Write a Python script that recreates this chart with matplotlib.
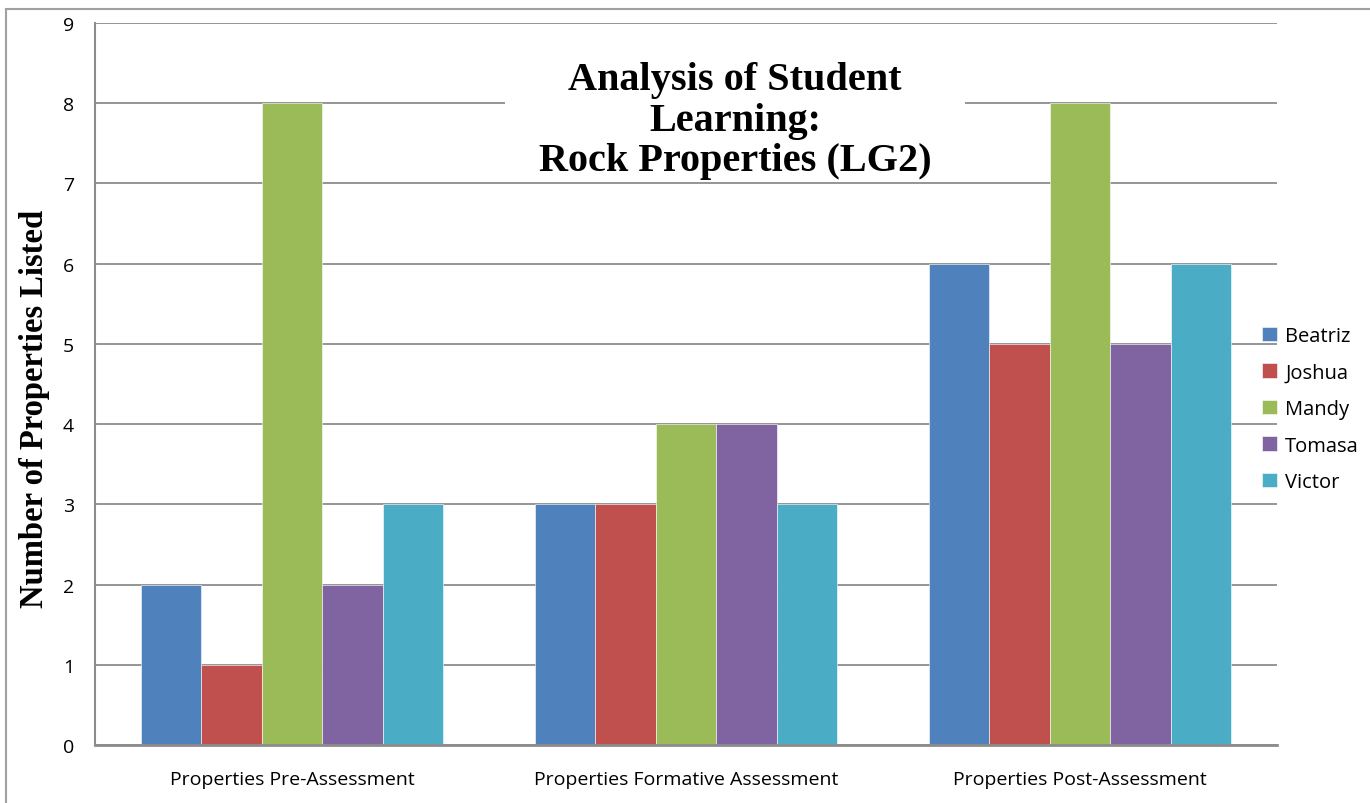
import numpy as np
import matplotlib.pyplot as plt
from matplotlib.patches import Rectangle

categories = ["Properties Pre-Assessment", "Properties Formative Assessment", "Properties Post-Assessment"]
students = ["Beatriz", "Joshua", "Mandy", "Tomasa", "Victor"]
beatriz = [2, 3, 6]
joshua = [1, 3, 5]
mandy = [8, 4, 8]
tomasa = [2, 4, 5]
victor = [3, 3, 6]
values = [beatriz, joshua, mandy, tomasa, victor]
colors = ["#4F81BD", "#C0504D", "#9BBB59", "#8064A2", "#4BACC6"]

W, H = 1370, 804
fig = plt.figure(figsize=(W / 100, H / 100), dpi=100)
ax = fig.add_axes([95 / W, 1 - 746 / H, (1277 - 95) / W, (746 - 24) / H])

# outer chart border
fig.patches.append(Rectangle((6 / W, -0.05), 1.1, 1 - 10 / H + 0.05, transform=fig.transFigure,
                             fill=False, edgecolor="#A0A0A0", linewidth=1.5, zorder=0))

x = np.arange(len(categories))
bw = 0.766 / len(students)
for i, (name, vals) in enumerate(zip(students, values)):
    ax.bar(x + (i - 2) * bw, vals, width=bw, color=colors[i], label=name,
           edgecolor="white", linewidth=0.4, zorder=3)

ax.set_xlim(-0.5, 2.5)
ax.set_ylim(0, 9)
ax.set_yticks(range(10))
ax.set_xticks(x)
ax.set_xticklabels(categories, fontsize=14, family="Open Sans")
for lab in ax.get_yticklabels():
    lab.set_family("Open Sans")
ax.tick_params(axis="y", labelsize=14, length=0, pad=15)
ax.tick_params(axis="x", length=0, pad=18)
ax.grid(axis="y", color="#8C8C8C", linewidth=1.3, zorder=0)
for s in ["top", "right"]:
    ax.spines[s].set_visible(False)
ax.spines["left"].set_color("#8C8C8C")
ax.spines["left"].set_linewidth(1.5)
ax.spines["bottom"].set_color("#8C8C8C")
ax.spines["bottom"].set_linewidth(2)
ax.spines["bottom"].set_zorder(4)

ax.set_ylabel("Number of Properties Listed", family="Liberation Serif", fontweight="bold",
              fontsize=23.5)
ax.yaxis.set_label_coords(-45 / (1277 - 95), 0.467)

# white panel behind the title
fig.patches.append(Rectangle((505 / W, 1 - 178 / H), 460 / W, 120 / H, transform=fig.transFigure,
                             facecolor="white", edgecolor="none", zorder=2))
fig.text(735 / W, 1 - 121 / H, "Analysis of Student\nLearning:\nRock Properties (LG2)",
         ha="center", va="center", family="Liberation Serif",
         fontweight="bold", fontsize=29, linespacing=1.12, zorder=5)

leg = ax.legend(loc="center left", bbox_to_anchor=(1244 / W, 1 - 410 / H),
                bbox_transform=fig.transFigure, frameon=False,
                handlelength=0.75, handleheight=0.75, handletextpad=0.4, labelspacing=0.82,
                prop={"family": "Open Sans", "size": 14.5})

fig.savefig("out.png", dpi=100)
